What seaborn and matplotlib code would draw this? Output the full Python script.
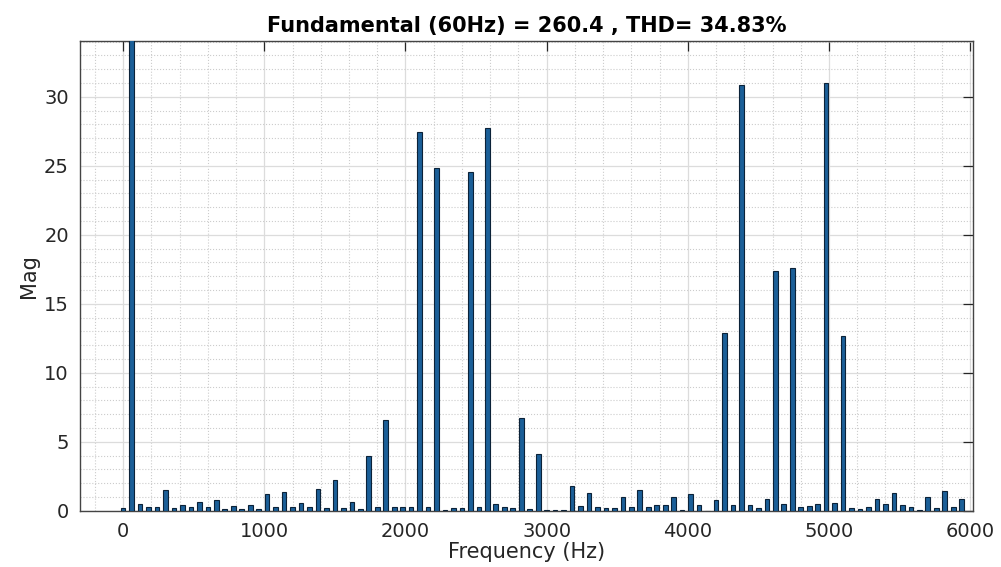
import numpy as np
import pandas as pd
import seaborn as sns
import matplotlib.pyplot as plt
from matplotlib.ticker import MultipleLocator

# harmonic order and magnitude (% of fundamental)
harmonic = list(range(0, 100))
mag = [
    0.2, 100, 0.53, 0.25, 0.25, 1.5, 0.2, 0.4, 0.3, 0.65,
    0.27, 0.82, 0.1, 0.36, 0.15, 0.43, 0.1, 1.2, 0.3, 1.4,
    0.3, 0.6, 0.3, 1.55, 0.2, 2.2, 0.22, 0.65, 0.1, 3.95,
    0.3, 6.6, 0.3, 0.3, 0.3, 27.45, 0.25, 24.85, 0.08, 0.2,
    0.2, 24.55, 0.25, 27.75, 0.5, 0.3, 0.22, 6.7, 0.12, 4.1,
    0.05, 0.05, 0.07, 1.8, 0.38, 1.28, 0.3, 0.22, 0.22, 0.97,
    0.25, 1.5, 0.3, 0.43, 0.4, 0.97, 0.05, 1.2, 0.43, 0.02,
    0.8, 12.9, 0.43, 30.85, 0.43, 0.2, 0.85, 17.4, 0.48, 17.6,
    0.25, 0.36, 0.48, 31.0, 0.58, 12.7, 0.2, 0.17, 0.3, 0.85,
    0.5, 1.28, 0.4, 0.25, 0.05, 0.97, 0.22, 1.42, 0.25, 0.85,
]
f0 = 60
title = "Fundamental (60Hz) = 260.4 , THD= 34.83%"

df = pd.DataFrame({"Frequency": [h * f0 for h in harmonic], "Mag": mag})

sns.set_style("white")
# the reference text is wide, DejaVu Sans gets closer than an Arial clone
plt.rcParams['font.family'] = ['DejaVu Sans']

fig, ax = plt.subplots(figsize=(10.01, 5.67), dpi=100)
fig.subplots_adjust(left=0.08, right=0.972, top=0.928, bottom=0.099)

sns.barplot(ax=ax, data=df, x="Frequency", y="Mag", native_scale=True,
            width=0.55, color="#1b5f98", edgecolor="#0b2238", linewidth=0.8,
            saturation=1, zorder=3)

ax.set_xlim(-305, 6020)
ax.set_ylim(0, 34.05)
ax.xaxis.set_major_locator(MultipleLocator(1000))
ax.xaxis.set_minor_locator(MultipleLocator(200))
ax.yaxis.set_major_locator(MultipleLocator(5))
ax.yaxis.set_minor_locator(MultipleLocator(1))

ax.grid(which="major", color="#dcdcdc", linestyle="-", linewidth=0.9, zorder=0)
ax.grid(which="minor", color="#cccccc", linestyle=":", linewidth=0.8, zorder=0)
ax.set_axisbelow(True)

ax.tick_params(which="major", direction="in", length=7, width=0.9,
               top=True, right=True, labelsize=14, colors="#262626", pad=8)
ax.tick_params(which="minor", length=0, top=True, right=True)
for s in ax.spines.values():
    s.set_color("#444444")
    s.set_linewidth(1.0)

ax.set_xlabel("Frequency (Hz)", fontsize=15, color="#262626", labelpad=1)
ax.set_ylabel("Mag", fontsize=15, color="#262626", labelpad=4)
ax.set_title(title, fontsize=15, fontweight="bold", color="black", pad=6)

fig.savefig("out.png", dpi=100)
